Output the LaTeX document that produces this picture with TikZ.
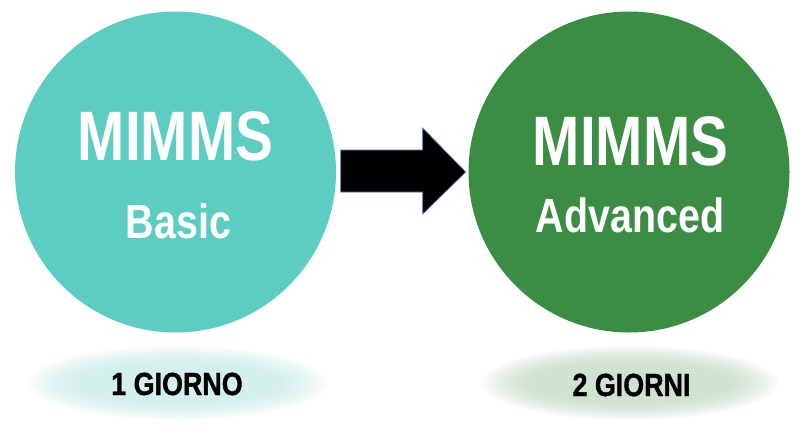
\documentclass[tikz,border=0pt]{standalone}
\usepackage{fontspec}
\setmainfont{Liberation Sans}
\newfontfamily\bigfont[FakeStretch=0.81]{Liberation Sans Bold}
\newfontfamily\subfont[FakeStretch=0.82]{Liberation Sans Bold}
\newfontfamily\dayfont[FakeStretch=0.84,FakeBold=1.2]{Liberation Sans Bold}
\definecolor{tealc}{RGB}{94,205,193}
\definecolor{greenc}{RGB}{59,141,68}
\definecolor{glowA}{RGB}{196,238,232}
\definecolor{glowB}{RGB}{190,218,193}
\definecolor{arrowedge}{RGB}{80,120,200}
\begin{document}
\begin{tikzpicture}[x=1pt,y=-1pt,
  bubble/.style={circle, minimum size=321pt, inner sep=0pt, draw=none},
  titletext/.style={anchor=base, inner sep=0pt, text=white, font=\bigfont\fontsize{70}{70}\selectfont},
  subtext/.style={anchor=base, inner sep=0pt, text=white, font=\subfont\fontsize{48}{48}\selectfont},
  daytext/.style={anchor=base, inner sep=0pt, text=black, font=\dayfont\fontsize{32}{32}\selectfont},
  glowlayer/.style={fill opacity=0.09, draw=none},
  blockarrow/.style={fill=black, draw=arrowedge, line width=0.7pt, line join=miter}]
\useasboundingbox (0,0) rectangle (800,429);
\fill[white] (0,0) rectangle (800,429);
% glow ellipses (soft edges from stacked translucent layers)
\coordinate (gl) at (178,383);
\coordinate (gr) at (630,383);
\foreach \i in {0,...,11}{
  \fill[glowlayer, glowA] (gl) ellipse [x radius={150-4.2*\i}, y radius={37-1.5*\i}];
  \fill[glowlayer, glowB] (gr) ellipse [x radius={148-4.2*\i}, y radius={37-1.5*\i}];
}
% circles
\node[bubble, fill=tealc] (basic) at (175.5,172) {};
\node[bubble, fill=greenc] (adv) at (629,172) {};
% arrow
\coordinate (a1) at (340.7,150);
\coordinate (a2) at (422.7,150);
\coordinate (a3) at (422.7,128);
\coordinate (a4) at (465.7,172);
\coordinate (a5) at (422.7,214);
\coordinate (a6) at (422.7,192);
\coordinate (a7) at (340.7,192);
\draw[blockarrow] (a1) -- (a2) -- (a3) -- (a4) -- (a5) -- (a6) -- (a7) -- cycle;
% texts
\node[titletext] (t1) at (175.5,160) {MIMMS};
\node[subtext] (s1) at (178.5,238) {Basic};
\node[titletext] (t2) at (630.5,165) {MIMMS};
\node[subtext] (s2) at (630,232) {Advanced};
\node[daytext] (d1) at (177,395) {1 GIORNO};
\node[daytext] (d2) at (631.5,396) {2 GIORNI};
\end{tikzpicture}
\end{document}
